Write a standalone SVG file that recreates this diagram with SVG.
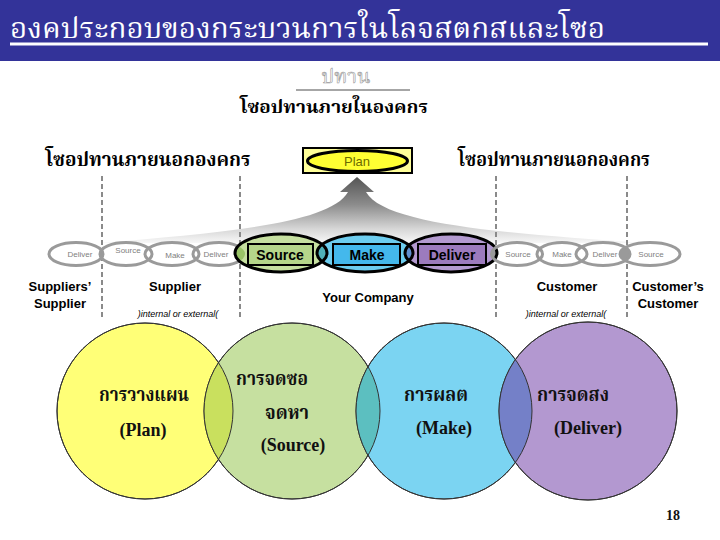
<svg xmlns="http://www.w3.org/2000/svg" width="720" height="540" viewBox="0 0 720 540">
<style>
.th{font-family:'Noto Serif Thai','Noto Sans Thai',Garuda,Loma,'Tlwg Typo','DejaVu Serif',serif;font-weight:bold}
.en{font-family:'Liberation Sans',Arial,sans-serif}
.enb{font-family:'Liberation Sans',Arial,sans-serif;font-weight:bold;font-size:13px;fill:#000}
.ser{font-family:'Liberation Serif','Times New Roman',serif;font-weight:bold;font-size:18px;fill:#111}
.gray{fill:none;stroke:#9a9a9a;stroke-width:3}
.gtxt{font-family:'Liberation Sans',Arial,sans-serif;font-size:8px;fill:#808080;text-anchor:middle}
.dash{stroke:#8a8a8a;stroke-width:2;stroke-dasharray:5 3;fill:none}
.circ{stroke:#333;stroke-width:1}
.ital{font-family:'Liberation Sans',Arial,sans-serif;font-style:italic;font-size:9px;fill:#000;text-anchor:middle}
</style>
<defs>
<linearGradient id="fan" x1="0" y1="177" x2="0" y2="246" gradientUnits="userSpaceOnUse">
<stop offset="0" stop-color="#555555"/>
<stop offset="0.4" stop-color="#8c8c8c"/>
<stop offset="0.75" stop-color="#d6d6d6"/>
<stop offset="1" stop-color="#ffffff"/>
</linearGradient>
<clipPath id="cSrc"><ellipse cx="281" cy="253" rx="46" ry="19"/></clipPath>
<clipPath id="cMake"><ellipse cx="365" cy="253" rx="48" ry="19"/></clipPath>
<clipPath id="cDel"><ellipse cx="451" cy="253" rx="46" ry="19"/></clipPath>
<clipPath id="cG"><circle cx="292" cy="411" r="88"/></clipPath>
<clipPath id="cB"><circle cx="444" cy="411" r="88"/></clipPath>
<clipPath id="cP"><circle cx="588" cy="411" r="89"/></clipPath>
<clipPath id="cRD"><ellipse cx="603" cy="254" rx="27" ry="11.5"/></clipPath>
<clipPath id="cLS"><ellipse cx="126" cy="254" rx="26" ry="11.5"/></clipPath>
</defs>
<rect width="720" height="540" fill="#fff"/>
<g id="title">
<rect x="0" y="0" width="720" height="61" fill="#333399"/>
<text x="10" y="38" class="th" font-size="28" fill="#fff" textLength="595" lengthAdjust="spacingAndGlyphs" style="font-weight:normal">องคประกอบของกระบวนการในโลจสตกสและโซอ</text>
<line x1="10" y1="44" x2="708" y2="44" stroke="#fff" stroke-width="3"/>
<text x="346" y="83" class="th" font-size="20" fill="#fff" stroke="#999" stroke-width="0.6" text-anchor="middle" style="font-weight:normal">ปทาน</text>
<line x1="296" y1="90" x2="410" y2="90" stroke="#888" stroke-width="1.5"/>
</g>
<g id="headings">
<text x="334" y="113" class="th" font-size="18" fill="#000" text-anchor="middle" textLength="188" lengthAdjust="spacingAndGlyphs">โซอปทานภายในองคกร</text>
<text x="148" y="166" class="th" font-size="20" fill="#000" text-anchor="middle" textLength="205" lengthAdjust="spacingAndGlyphs">โซอปทานภายนอกองคกร</text>
<text x="554" y="166" class="th" font-size="20" fill="#000" text-anchor="middle" textLength="192" lengthAdjust="spacingAndGlyphs">โซอปทานภายนอกองคกร</text>
</g>
<g id="connectors">
<path d="M100 243 C220 233 330 224 348 192 L340 192 L357 177 L374 192 L366 192 C384 224 500 233 642 243 Z" fill="url(#fan)"/>
<line class="dash" x1="102" y1="176" x2="102" y2="320"/>
<line class="dash" x1="240" y1="176" x2="240" y2="320"/>
<line class="dash" x1="496" y1="176" x2="496" y2="320"/>
<line class="dash" x1="627" y1="176" x2="627" y2="320"/>
</g>
<g id="plan">
<rect x="303" y="148" width="109" height="25" fill="#ffff99" stroke="#000" stroke-width="2"/>
<ellipse cx="357.5" cy="161" rx="50" ry="10.5" fill="#ffff33" stroke="#000" stroke-width="3"/>
<text x="357" y="166" class="en" font-size="13" fill="#6b6b00" text-anchor="middle">Plan</text>
</g>
<g id="chain-left">
<ellipse cx="76" cy="254" rx="27" ry="11.5" fill="#9a9a9a" clip-path="url(#cLS)"/>
<ellipse class="gray" cx="76" cy="254" rx="27" ry="11.5"/>
<ellipse class="gray" cx="126" cy="254" rx="26" ry="11.5"/>
<ellipse class="gray" cx="172" cy="254" rx="27" ry="11.5"/>
<ellipse class="gray" cx="219" cy="254" rx="26" ry="11.5"/>
<text class="gtxt" x="80" y="257">Deliver</text>
<text class="gtxt" x="128" y="253">Source</text>
<text class="gtxt" x="175" y="258">Make</text>
<text class="gtxt" x="216" y="257">Deliver</text>
</g>
<g id="your-company">
<ellipse cx="281" cy="253" rx="46" ry="19" fill="#c6e0a0"/>
<ellipse cx="365" cy="253" rx="48" ry="19" fill="#6dcdef"/>
<ellipse cx="451" cy="253" rx="46" ry="19" fill="#b39ad0"/>
<ellipse cx="365" cy="253" rx="48" ry="19" fill="#4fb0b8" clip-path="url(#cSrc)"/>
<ellipse cx="451" cy="253" rx="46" ry="19" fill="#5f8fcf" clip-path="url(#cMake)"/>
<ellipse cx="219" cy="254" rx="26" ry="11.5" fill="#99c466" clip-path="url(#cSrc)"/>
<ellipse cx="517" cy="254" rx="25.5" ry="11.5" fill="#9a9a9a" clip-path="url(#cDel)"/>
<ellipse cx="281" cy="253" rx="46" ry="19" fill="none" stroke="#000" stroke-width="3"/>
<ellipse cx="365" cy="253" rx="48" ry="19" fill="none" stroke="#000" stroke-width="3"/>
<ellipse cx="451" cy="253" rx="46" ry="19" fill="none" stroke="#000" stroke-width="3"/>
<g id="source">
<rect x="248" y="244" width="65" height="21" fill="#b5d68a" stroke="#000" stroke-width="2"/>
<text x="280" y="260" class="en" font-size="14" font-weight="bold" fill="#000" text-anchor="middle">Source</text>
</g>
<g id="make">
<rect x="333" y="244" width="67" height="21" fill="#44b8ec" stroke="#000" stroke-width="2"/>
<text x="367" y="260" class="en" font-size="14" font-weight="bold" fill="#000" text-anchor="middle">Make</text>
</g>
<g id="deliver">
<rect x="418" y="244" width="68" height="21" fill="#9c7bbd" stroke="#000" stroke-width="2"/>
<text x="452" y="260" class="en" font-size="14" font-weight="bold" fill="#000" text-anchor="middle">Deliver</text>
</g>
</g>
<g id="chain-right">
<ellipse cx="650" cy="254" rx="30" ry="11.5" fill="#9a9a9a" clip-path="url(#cRD)"/>
<ellipse class="gray" cx="517" cy="254" rx="25.5" ry="11.5"/>
<ellipse class="gray" cx="562" cy="254" rx="25" ry="11.5"/>
<ellipse class="gray" cx="603" cy="254" rx="27" ry="11.5"/>
<ellipse class="gray" cx="650" cy="254" rx="30" ry="11.5"/>
<text class="gtxt" x="518" y="257">Source</text>
<text class="gtxt" x="562" y="257">Make</text>
<text class="gtxt" x="605" y="257">Deliver</text>
<text class="gtxt" x="651" y="257">Source</text>
</g>
<g id="labels">
<text class="enb" x="60" y="291" text-anchor="middle">Suppliers’</text>
<text class="enb" x="60" y="308" text-anchor="middle">Supplier</text>
<text class="enb" x="175" y="291" text-anchor="middle">Supplier</text>
<text class="ital" x="178" y="317">)internal or external(</text>
<text class="enb" x="368" y="302" text-anchor="middle">Your Company</text>
<text class="enb" x="567" y="291" text-anchor="middle">Customer</text>
<text class="ital" x="566" y="317">)internal or external(</text>
<text class="enb" x="668" y="291" text-anchor="middle">Customer’s</text>
<text class="enb" x="668" y="308" text-anchor="middle">Customer</text>
</g>
<g id="circle-plan">
<circle class="circ" cx="145" cy="411" r="88" fill="#ffff77"/>
</g>
<g id="circle-source">
<circle class="circ" cx="292" cy="411" r="88" fill="#c6e0a0"/>
<circle cx="145" cy="411" r="88" fill="#c9e05e" clip-path="url(#cG)"/>
</g>
<g id="circle-make">
<circle class="circ" cx="444" cy="411" r="88" fill="#7bd4f2"/>
<circle cx="292" cy="411" r="88" fill="#5cbfc0" clip-path="url(#cB)"/>
</g>
<g id="circle-deliver">
<circle class="circ" cx="588" cy="411" r="89" fill="#b398d0"/>
<circle cx="444" cy="411" r="88" fill="#7480c8" clip-path="url(#cP)"/>
</g>
<g id="circle-outlines" fill="none" stroke="#333" stroke-width="1">
<circle cx="145" cy="411" r="88"/>
<circle cx="292" cy="411" r="88"/>
<circle cx="444" cy="411" r="88"/>
<circle cx="588" cy="411" r="89"/>
</g>
<g id="circle-texts">
<text class="th" x="144" y="401" font-size="20" fill="#111" text-anchor="middle" textLength="90" lengthAdjust="spacingAndGlyphs">การวางแผน</text>
<text class="ser" x="143" y="436" text-anchor="middle">(Plan)</text>
<text class="th" x="272" y="385" font-size="20" fill="#111" text-anchor="middle" textLength="72" lengthAdjust="spacingAndGlyphs">การจดซอ</text>
<text class="th" x="287" y="419" font-size="20" fill="#111" text-anchor="middle" textLength="44" lengthAdjust="spacingAndGlyphs">จดหา</text>
<text class="ser" x="293" y="451" text-anchor="middle">(Source)</text>
<text class="th" x="436" y="401" font-size="20" fill="#111" text-anchor="middle" textLength="64" lengthAdjust="spacingAndGlyphs">การผลต</text>
<text class="ser" x="444" y="434" text-anchor="middle">(Make)</text>
<text class="th" x="573" y="401" font-size="20" fill="#111" text-anchor="middle" textLength="72" lengthAdjust="spacingAndGlyphs">การจดสง</text>
<text class="ser" x="588" y="434" text-anchor="middle">(Deliver)</text>
<text class="ser" x="673" y="520" text-anchor="middle" style="font-size:14px">18</text>
</g>
</svg>
